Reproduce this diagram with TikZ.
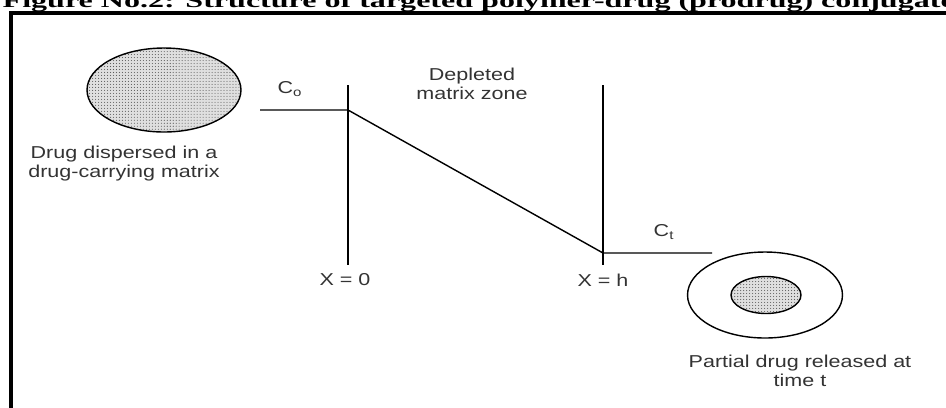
\documentclass[tikz,border=0pt]{standalone}
\usepackage{fontspec}
\setmainfont{Liberation Serif}
\newfontfamily\widesans[FakeStretch=1.25]{Liberation Sans}
\newfontfamily\widetitle[FakeStretch=1.6]{Liberation Serif}
\usetikzlibrary{shapes.geometric,patterns.meta}

\begin{document}
\begin{tikzpicture}[x=0.02cm,y=-0.02cm,thick,
    blob/.style={ellipse,draw,inner sep=0pt,preaction={fill=gray!25},
      pattern={Dots[radius=0.3pt,distance=1.7pt]},pattern color=gray!70!black},
    ring/.style={ellipse,draw,inner sep=0pt},
    lbl/.style={font=\widesans\fontsize{9.8}{10.8}\selectfont,text=black!80,
      align=center,inner sep=0pt}]
\useasboundingbox (0,0) rectangle (946,407);
\clip (0,0) rectangle (946,407);

\node[anchor=base west,inner sep=0pt,font=\widetitle\bfseries\fontsize{11.4}{14}\selectfont]
  (title) at (2,7) {Figure No.2: Structure of targeted polymer-drug (prodrug) conjugate};
\draw[line width=2.6pt] (11,420) -- (11,12.8) -- (960,12.8);

\node[blob,minimum width=3.08cm,minimum height=1.68cm] (drug) at (164,90) {};
\node[lbl] (druglbl) at (124,164) {Drug dispersed in a\\drug-carrying matrix};

\coordinate (co) at (260,110);
\coordinate (x0) at (348,110);
\coordinate (xh) at (603,253);
\coordinate (ct) at (712,253);
\coordinate (x0top) at (348,85);
\coordinate (x0bot) at (348,265);
\coordinate (xhtop) at (603,85);
\coordinate (xhbot) at (603,265);

\draw (co) -- (x0) -- (xh) -- (ct);
\draw (x0top) -- (x0bot);
\draw (xhtop) -- (xhbot);

\node[lbl] (colbl) at (290,89) {C\textsubscript{o}};
\node[lbl] (ctlbl) at (664,232) {C\textsubscript{t}};
\node[lbl] (zone) at (472,84) {Depleted\\matrix zone};
\node[lbl] (x0lbl) at (345,280) {X = 0};
\node[lbl] (xhlbl) at (603,280) {X = h};

\node[ring,minimum width=3.1cm,minimum height=1.72cm] (outer) at (765,295) {};
\node[blob,minimum width=1.4cm,minimum height=0.74cm] (core) at (766,295) {};
\node[lbl] (rellbl) at (800,371) {Partial drug released at\\time t};
\end{tikzpicture}
\end{document}
